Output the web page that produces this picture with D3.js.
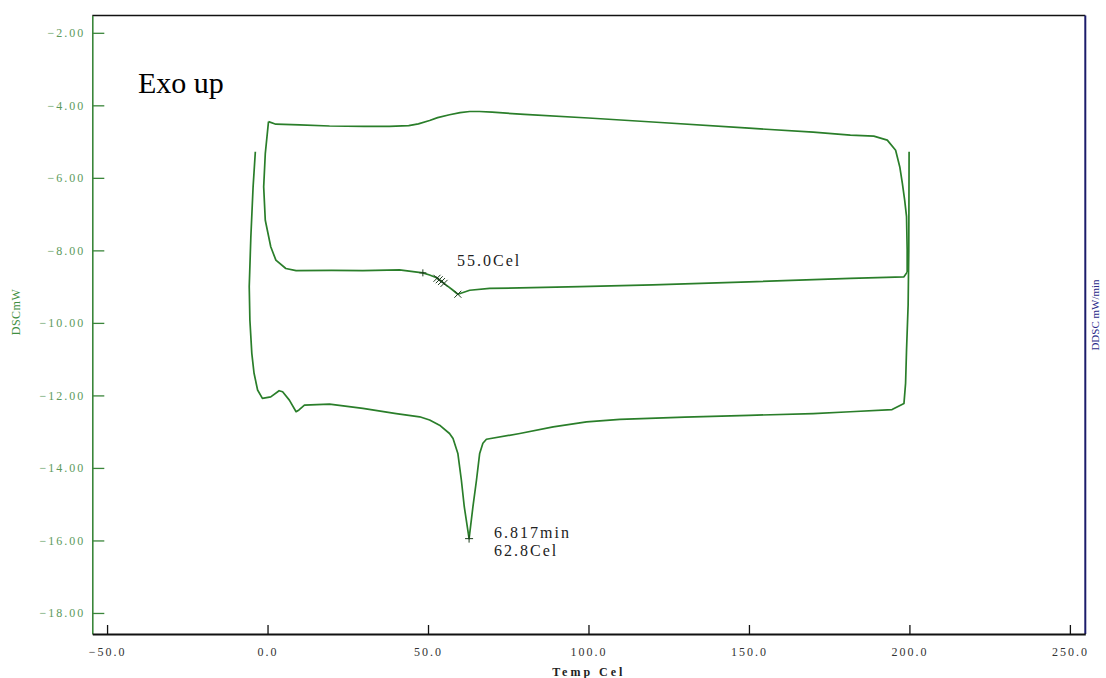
<!DOCTYPE html>
<html>
<head>
<meta charset="utf-8">
<script src="https://cdn.jsdelivr.net/npm/d3@7"></script>
<style>
  html, body { margin: 0; padding: 0; background: #ffffff; }
  svg { display: block; }
  text { font-family: "Liberation Serif", "Times New Roman", serif; }
</style>
</head>
<body>
<svg id="chart" width="1106" height="678"></svg>
<script>
// Axis ticks
const tempTicks = [-50, 0, 50, 100, 150, 200, 250];
const dscTicks = [-2, -4, -6, -8, -10, -12, -14, -16, -18];

// First heating run (start-up hook, melting endotherm, end of ramp)
const heat1Temp = [-3.8, -4.5, -5.2, -5.7, -5.5, -4.9, -4.2, -3.1, -1.6, 1.0, 3.6, 4.7, 6.8, 8.9, 9.8, 11.5,
  19.3, 29.7, 40.1, 47.4, 50.5, 53.6, 56.7, 57.8, 59.3, 60.4, 61.3, 62.8, 64.0, 65.1, 66.1, 67.1, 68.2,
  78.6, 89.0, 99.4, 109.8, 130, 150, 170, 181.6, 194.6, 198.3, 198.8, 199.1, 199.6, 199.8, 199.9];
const heat1Dsc = [-5.28, -6.25, -7.63, -9.00, -9.92, -10.84, -11.39, -11.85, -12.08, -12.04, -11.87, -11.90, -12.13, -12.45, -12.40, -12.27,
  -12.24, -12.36, -12.50, -12.59, -12.68, -12.82, -13.05, -13.19, -13.60, -14.34, -15.07, -15.95, -15.07, -14.34, -13.60, -13.32, -13.21,
  -13.05, -12.87, -12.73, -12.66, -12.60, -12.55, -12.50, -12.45, -12.39, -12.22, -11.67, -10.75, -9.50, -8.00, -5.28];

// Cooling run (200 -> 0)
const coolTemp = [199.3, 199.3, 199.1, 198.5, 197.8, 197.0, 195.7, 193.1, 188.9, 181.6, 170, 150, 120, 100, 80, 70, 66,
  63, 60, 56.7, 53, 50.5, 47, 44, 38, 30, 19.3, 10, 2.6, 0.3];
const coolDsc = [-8.60, -8.00, -7.07, -6.60, -6.15, -5.70, -5.24, -4.96, -4.85, -4.82, -4.74, -4.63, -4.46, -4.35, -4.25, -4.19, -4.17,
  -4.17, -4.20, -4.26, -4.34, -4.42, -4.51, -4.56, -4.58, -4.58, -4.57, -4.54, -4.52, -4.45];

// Second heating run (glass transition near 55 °C)
const heat2Temp = [0.3, -0.7, -1.2, -0.7, 1.0, 2.6, 5.7, 8.9, 20, 29.7, 41.1, 48.4, 50.5, 52.5, 54, 55.7, 57.5, 59.3,
  63.0, 69.2, 97.3, 120, 150, 181.6, 190, 198.3, 199.3];
const heat2Dsc = [-4.45, -5.33, -6.25, -7.17, -7.90, -8.27, -8.50, -8.56, -8.55, -8.56, -8.54, -8.62, -8.68, -8.75, -8.84, -8.96, -9.08, -9.21,
  -9.10, -9.05, -9.00, -8.95, -8.87, -8.77, -8.75, -8.73, -8.60];

// Analysis markers on the glass-transition step
const stepMarkTemp = [48.4, 52.8, 53.5, 54.2, 55.0, 59.3];
const stepMarkDsc = [-8.62, -8.77, -8.81, -8.86, -8.91, -9.21];
const stepMarkKind = ["plus", "cross", "cross", "cross", "cross", "cross"];

// Melting peak
const peakTemp = 62.8;
const peakDsc = -15.95;
const peakTime = "6.817min";
const tgTemp = 55.0;

const svg = d3.select("#chart");
const plotLeft = 92.3, plotRight = 1085.3, plotTop = 15.4, plotBottom = 634;

const x = d3.scaleLinear().domain([-54.6, 254.8]).range([plotLeft, plotRight]);
const y = d3.scaleLinear().domain([-18.58, -1.52]).range([plotBottom, plotTop]);

// Top frame
svg.append("line").attr("x1", plotLeft).attr("x2", plotRight).attr("y1", plotTop).attr("y2", plotTop)
  .attr("stroke", "#111").attr("stroke-width", 1.5);

// Right axis (DDSC)
svg.append("line").attr("x1", plotRight).attr("x2", plotRight).attr("y1", plotTop).attr("y2", plotBottom)
  .attr("stroke", "#1c1c6b").attr("stroke-width", 2);

// Left axis (DSC)
const yAxis = d3.axisLeft(y).tickValues(dscTicks).tickSizeInner(-12).tickSizeOuter(0)
  .tickPadding(7).tickFormat(d3.format(".2f"));
const gy = svg.append("g").attr("transform", `translate(${plotLeft},0)`).call(yAxis);
gy.select(".domain").attr("stroke", "#3a863a").attr("stroke-width", 1.6);
gy.selectAll(".tick line").attr("stroke", "#3a863a").attr("stroke-width", 1.3);
gy.selectAll(".tick text").attr("fill", "#5c9a5c").attr("font-size", 12)
  .attr("font-family", "Liberation Serif, serif").style("letter-spacing", "2px");

// Bottom axis (temperature)
const xAxis = d3.axisBottom(x).tickValues(tempTicks).tickSizeInner(-9).tickSizeOuter(0)
  .tickPadding(13).tickFormat(d3.format(".1f"));
const gx = svg.append("g").attr("transform", `translate(0,${plotBottom})`).call(xAxis);
gx.select(".domain").attr("stroke", "#111").attr("stroke-width", 2.2);
gx.selectAll(".tick line").attr("stroke", "#111").attr("stroke-width", 1.3);
gx.selectAll(".tick text").attr("fill", "#333").attr("font-size", 12)
  .attr("font-family", "Liberation Serif, serif").style("letter-spacing", "2px");

// Axis titles
svg.append("text").attr("x", (plotLeft + plotRight) / 2).attr("y", 676).attr("text-anchor", "middle")
  .attr("font-size", 12).attr("fill", "#222").style("letter-spacing", "3px").style("font-weight", "bold")
  .text("Temp Cel");
svg.append("text").attr("transform", "translate(20,312) rotate(-90)").attr("text-anchor", "middle")
  .attr("font-size", 12).attr("fill", "#3f8f3f").style("letter-spacing", "0.5px").text("DSCmW");
svg.append("text").attr("transform", "translate(1099,315) rotate(-90)").attr("text-anchor", "middle")
  .attr("font-size", 11).attr("fill", "#2b2b8a").text("DDSC mW/min");

// Curves
const line = d3.line().x(d => x(d[0])).y(d => y(d[1]));
const runs = [
  d3.zip(heat1Temp, heat1Dsc),
  d3.zip(coolTemp, coolDsc),
  d3.zip(heat2Temp, heat2Dsc)
];
svg.append("g").selectAll("path").data(runs).join("path")
  .attr("d", line).attr("fill", "none").attr("stroke", "#2a7e2a")
  .attr("stroke-width", 1.7).attr("stroke-linejoin", "round");

// Step markers
const marks = stepMarkTemp.map((t, i) => ({ t, v: stepMarkDsc[i], kind: stepMarkKind[i] }));
const mg = svg.append("g").attr("stroke", "#1d3d1d").attr("stroke-width", 1);
marks.forEach(m => {
  const cx = x(m.t), cy = y(m.v), s = 3.5;
  if (m.kind === "plus") {
    mg.append("line").attr("x1", cx - s).attr("x2", cx + s).attr("y1", cy).attr("y2", cy);
    mg.append("line").attr("x1", cx).attr("x2", cx).attr("y1", cy - s).attr("y2", cy + s);
  } else {
    mg.append("line").attr("x1", cx - s).attr("x2", cx + s).attr("y1", cy - s).attr("y2", cy + s);
    mg.append("line").attr("x1", cx - s).attr("x2", cx + s).attr("y1", cy + s).attr("y2", cy - s);
  }
});

// Peak marker
const px = x(peakTemp), py = y(peakDsc);
mg.append("line").attr("x1", px - 4).attr("x2", px + 4).attr("y1", py).attr("y2", py);
mg.append("line").attr("x1", px).attr("x2", px).attr("y1", py - 4).attr("y2", py + 4);

// Annotations
svg.append("text").attr("x", x(tgTemp) + 13).attr("y", y(-8.62) - 7)
  .attr("font-size", 16).attr("fill", "#222").style("letter-spacing", "2px")
  .text(`${d3.format(".1f")(tgTemp)}Cel`);
svg.append("text").attr("x", px + 25).attr("y", py - 1)
  .attr("font-size", 16).attr("fill", "#222").style("letter-spacing", "2px")
  .text(peakTime);
svg.append("text").attr("x", px + 25).attr("y", py + 17)
  .attr("font-size", 16).attr("fill", "#222").style("letter-spacing", "2px")
  .text(`${d3.format(".1f")(peakTemp)}Cel`);

svg.append("text").attr("x", 138).attr("y", 93).attr("font-size", 30).attr("fill", "#000")
  .text("Exo up");
</script>
</body>
</html>
